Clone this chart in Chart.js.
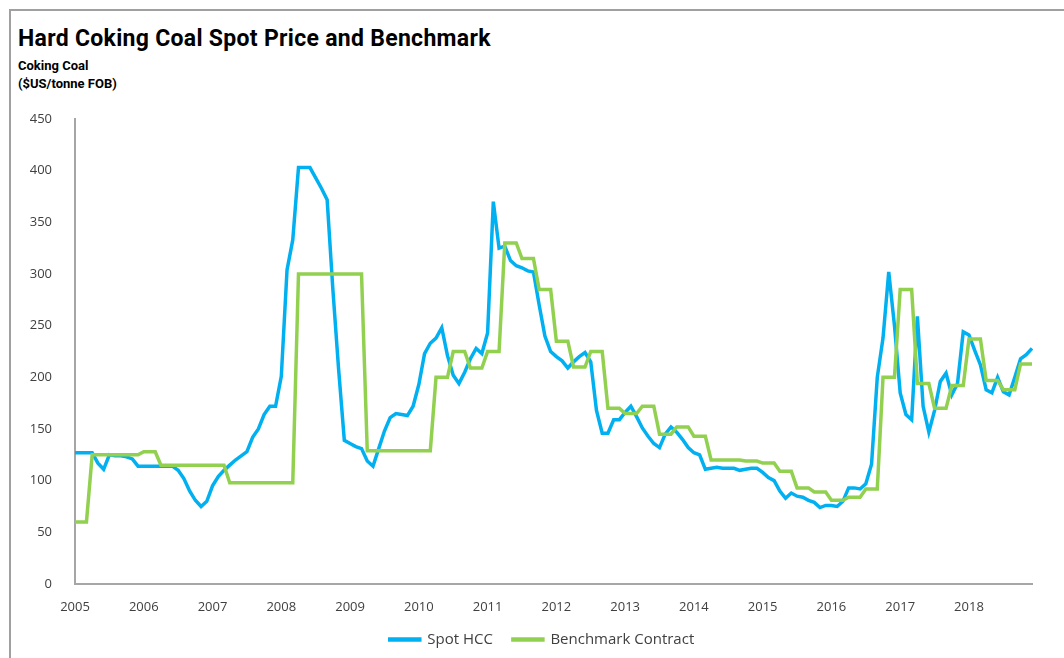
<!DOCTYPE html>
<html>
<head>
<meta charset="utf-8">
<script src="https://cdn.jsdelivr.net/npm/chart.js@4/dist/chart.umd.min.js"></script>
<style>
  body { margin: 0; background: #fff; }
  #wrap { position: relative; width: 1064px; height: 658px; overflow: hidden; }
  #frame { position: absolute; left: 9px; top: 9px; width: 1100px; height: 700px;
           border-left: 2px solid #a0a0a0; border-top: 2px solid #a0a0a0; }
  #title { position: absolute; left: 18px; top: 25px; font: bold 23px Roboto, sans-serif; letter-spacing: 0.3px; color: #000; }
  #sub { position: absolute; left: 18px; top: 57px; font: bold 13px Roboto, sans-serif; line-height: 18px; color: #000; }
  canvas { position: absolute; left: 0; top: 0; }
</style>
</head>
<body>
<div id="wrap">
  <div id="frame"></div>
  <div id="title">Hard Coking Coal Spot Price and Benchmark</div>
  <div id="sub">Coking Coal<br>($US/tonne FOB)</div>
  <canvas id="coalChart" width="1064" height="658"></canvas>
</div>
<script>
// Data, monthly Jan 2005 - Dec 2018
const years = [2005, 2006, 2007, 2008, 2009, 2010, 2011, 2012, 2013, 2014, 2015, 2016, 2017, 2018];
const months = ['01', '02', '03', '04', '05', '06', '07', '08', '09', '10', '11', '12'];
const yTicks = [0, 50, 100, 150, 200, 250, 300, 350, 400, 450];

const spotHCC = [
  127, 127, 127, 127, 117, 111, 125, 124, 124, 123, 121, 114,
  114, 114, 114, 114, 114, 114, 110, 102, 90, 81, 75, 80,
  95, 104, 110, 115, 120, 124, 128, 142, 150, 164, 172, 172,
  201, 304, 333, 403, 403, 403, 393, 383, 372, 285, 208, 139,
  136, 133, 131, 119, 114, 131, 148, 161, 165, 164, 163, 172,
  193, 223, 233, 238, 248, 221, 202, 194, 205, 218, 228, 223,
  243, 370, 325, 327, 313, 308, 306, 303, 302, 270, 240, 225,
  220, 216, 209, 215, 220, 224, 215, 168, 146, 146, 159, 159,
  166, 172, 162, 151, 143, 136, 132, 145, 152, 147, 140, 132,
  127, 125, 111, 112, 113, 112, 112, 112, 110, 111, 112, 112,
  108, 103, 100, 90, 83, 88, 85, 84, 81, 79, 74, 76,
  76, 75, 80, 93, 93, 92, 97, 116, 200, 238, 302, 250,
  185, 164, 159, 259, 172, 147, 168, 196, 204, 183, 194, 244,
  241, 226, 212, 188, 185, 200, 186, 183, 200, 218, 222, 228
];

const benchmark = [
  60, 60, 60, 125, 125, 125, 125, 125, 125, 125, 125, 125,
  128, 128, 128, 115, 115, 115, 115, 115, 115, 115, 115, 115,
  115, 115, 115, 98, 98, 98, 98, 98, 98, 98, 98, 98,
  98, 98, 98, 300, 300, 300, 300, 300, 300, 300, 300, 300,
  300, 300, 300, 129, 129, 129, 129, 129, 129, 129, 129, 129,
  129, 129, 129, 200, 200, 200, 225, 225, 225, 209, 209, 209,
  225, 225, 225, 330, 330, 330, 315, 315, 315, 285, 285, 285,
  235, 235, 235, 210, 210, 210, 225, 225, 225, 170, 170, 170,
  165, 165, 165, 172, 172, 172, 145, 145, 145, 152, 152, 152,
  143, 143, 143, 120, 120, 120, 120, 120, 120, 119, 119, 119,
  117, 117, 117, 109, 109, 109, 93, 93, 93, 89, 89, 89,
  81, 81, 81, 84, 84, 84, 92, 92, 92, 200, 200, 200,
  285, 285, 285, 194, 194, 194, 170, 170, 170, 192, 192, 192,
  237, 237, 237, 197, 197, 197, 188, 188, 188, 213, 213, 213
];

const labels = years.flatMap(y => months.map(m => `${y}-${m}`));

Chart.defaults.font.family = '"Open Sans", sans-serif';
Chart.defaults.color = '#404040';

// nudge the legend right so it sits centred on the page like the original
const legendShift = {
  id: 'legendShift',
  afterLayout(chart) {
    if (chart.legend) {
      chart.legend.left += 26;
      chart.legend.right += 26;
    }
  }
};

new Chart(document.getElementById('coalChart'), {
  type: 'line',
  data: {
    labels: labels,
    datasets: [{
      label: 'Benchmark Contract',
      data: benchmark,
      borderColor: '#92D050',
      backgroundColor: '#92D050',
      borderWidth: 3.5,
      pointRadius: 0,
      tension: 0
    },
    {
      label: 'Spot HCC',
      data: spotHCC,
      borderColor: '#00B0F0',
      backgroundColor: '#00B0F0',
      borderWidth: 3.5,
      pointRadius: 0,
      tension: 0
    }]
  },
  plugins: [legendShift],
  options: {
    responsive: false,
    animation: false,
    layout: { padding: { left: 0, right: 32, top: 119, bottom: 1 } },
    plugins: {
      legend: {
        position: 'bottom',
        reverse: true,
        labels: {
          boxWidth: 30,
          boxHeight: 1,
          padding: 20,
          color: '#404040',
          font: { size: 15 }
        }
      },
      tooltip: { enabled: false }
    },
    scales: {
      x: {
        offset: false,
        grid: { display: false },
        border: { display: true, color: '#a6a6a6', width: 2 },
        afterFit: (scale) => { scale.height = 28; },
        ticks: {
          autoSkip: false,
          maxRotation: 0,
          padding: 7,
          font: { size: 13 },
          color: '#404040',
          callback: (val, i) => (i % 12 === 0 ? labels[i].slice(0, 4) : '')
        }
      },
      y: {
        min: 0,
        max: 450,
        grid: { display: false },
        border: { display: true, color: '#a6a6a6', width: 2 },
        afterFit: (scale) => { scale.width = 75; },
        afterBuildTicks: (scale) => { scale.ticks = yTicks.map(v => ({ value: v })); },
        ticks: {
          padding: 15,
          font: { size: 13 },
          color: '#404040'
        }
      }
    }
  }
});
</script>
</body>
</html>
